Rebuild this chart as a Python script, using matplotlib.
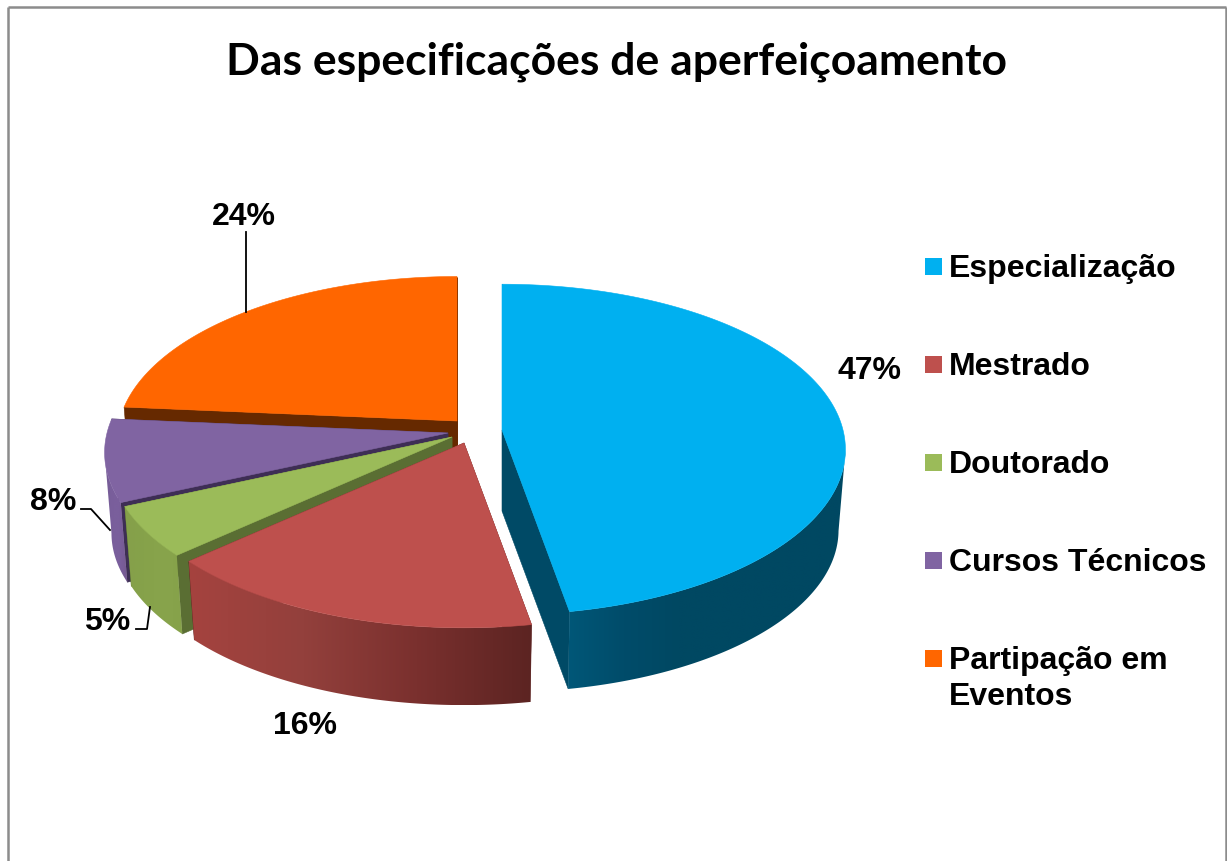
import numpy as np
import matplotlib
matplotlib.use("Agg")
import matplotlib.pyplot as plt
from matplotlib.colors import LinearSegmentedColormap
from matplotlib.patches import Rectangle, Polygon

# ---- data ----
categories = ["Especialização", "Mestrado", "Doutorado", "Cursos Técnicos", "Partipação em\nEventos"]
shares = [47.2, 16.14, 5.0, 8.05, 23.61]
pct_labels = ["47%", "16%", "5%", "8%", "24%"]
title = "Das especificações de aperfeiçoamento"

# ---- styles ----
top_colors = ["#00B0F0", "#BE504D", "#9BBB59", "#8064A2", "#FF6600"]
cut_colors = ["#004A66", "#5E2422", "#5A6E33", "#3E2E55", "#662900"]
# rim gradients, left to right on the page
side_stops = [["#005778", "#004C6A", "#004862", "#004862", "#004862", "#004862"],
              ["#A5433F", "#93403C", "#7A302E", "#5C2422"],
              ["#85A04A", "#86A24A", "#88A44C", "#86A24A"],
              ["#755C96", "#7A5F9C", "#7A5F9C", "#75588F"],
              ["#662900", "#662900"]]
apexes = [(502, 430), (464, 443), (452, 437), (448, 433), (457, 421)]
radii = [1.0, 1.0, 1.0, 1.0, 0.99]
Rx, Ry, k, depth, shrink = 341.0, 163.0, 0.118, 81.0, 0.98
start_deg = 90.0

fig = plt.figure(figsize=(12.27, 8.61), dpi=100, facecolor="white")
ax = fig.add_axes([0, 0, 1, 1])
ax.axis("off")


def top_point(apex, r, theta):
    X, Y = r * np.cos(theta), r * np.sin(theta)
    s = 1.0 / (1.0 + k * Y)
    return np.column_stack((apex[0] + Rx * X * s, apex[1] - Ry * Y * s))


def bottom_point(apex, r, theta):
    p = top_point(apex, r, theta)
    return np.column_stack((apex[0] + shrink * (p[:, 0] - apex[0]),
                            apex[1] + shrink * (p[:, 1] - apex[1]) + depth))


def poly(pts, color, z):
    ax.fill(pts[:, 0], pts[:, 1], facecolor=color, edgecolor=color, lw=0.4, zorder=z)


edges = start_deg - np.cumsum([0.0] + shares) * 3.6
# painter's order: back slices first
for z, i in enumerate([4, 3, 2, 1, 0]):
    apex, rad = apexes[i], radii[i]
    t0, t1 = np.radians(edges[i]), np.radians(edges[i + 1])
    base = 10 * (z + 1)
    # cut faces
    for t, dz in ((t0, 0), (t1, 1)):
        a = np.array([t])
        face = np.vstack((top_point(apex, 0, a), top_point(apex, rad, a),
                          bottom_point(apex, rad, a), bottom_point(apex, 0, a)))
        poly(face, cut_colors[i], base + dz)
    th = np.linspace(t0, t1, 400)
    up = top_point(apex, rad, th)
    # outer rim: only the part in front of the silhouette points (sin = -k),
    # with a left-to-right gradient clipped to its outline
    front = th[np.sin(th) <= -k]
    if front.size > 1:
        rim = np.vstack((top_point(apex, rad, front), bottom_point(apex, rad, front)[::-1]))
        cmap = LinearSegmentedColormap.from_list("s", side_stops[i])
        im = ax.imshow(np.linspace(0, 1, 256)[None, :], cmap=cmap, aspect="auto", zorder=base + 2,
                       extent=(rim[:, 0].min(), rim[:, 0].max(), rim[:, 1].max(), rim[:, 1].min()),
                       interpolation="bilinear")
        clip = Polygon(rim, closed=True, transform=ax.transData, facecolor="none", edgecolor="none")
        ax.add_patch(clip)
        im.set_clip_path(clip)
    # top
    pts = np.vstack((top_point(apex, 0, np.array([t0])), up))
    poly(pts, top_colors[i], base + 3)

ax.set_xlim(0, 1227)
ax.set_ylim(861, 0)

# frame
gray = "#8C8C8C"
for xs, ys in (((8, 8), (861, 7)), ((8, 1226), (7, 7)), ((1226, 1226), (7, 861))):
    ax.plot(xs, ys, color=gray, lw=1.8, solid_capstyle="butt", zorder=1)

# title
ax.text(617, 74, title, family="Lato", weight="bold", fontsize=32, ha="center", va="baseline",
        color="black", zorder=100)

# legend
text_font = dict(family="Liberation Sans", weight="bold", fontsize=23, color="black", zorder=100)
legend_y = [266.5, 364.5, 462.5, 560.5, 658.5]
for name, col, y in zip(categories, top_colors, legend_y):
    ax.add_patch(Rectangle((925, y - 8.5), 17, 17, facecolor=col, edgecolor="none", zorder=100))
    for n, line in enumerate(name.split("\n")):
        ax.text(949, y + 10.5 + 36 * n, line, ha="left", va="baseline", **text_font)

# percentage labels
label_xy = [(869, 379), (305, 734), (107, 630), (53, 510), (244, 225)]
for lab, (x, y) in zip(pct_labels, label_xy):
    ax.text(x, y, lab, ha="center", va="baseline", **text_font)

# leader lines
leaders = [((246, 246), (232, 312)),
           ((81, 91, 110), (509, 509, 530)),
           ((136, 147, 150), (629, 629, 607))]
for xs, ys in leaders:
    ax.plot(xs, ys, color="black", lw=1.3, zorder=99)

fig.savefig("out.png", dpi=100, facecolor="white")
